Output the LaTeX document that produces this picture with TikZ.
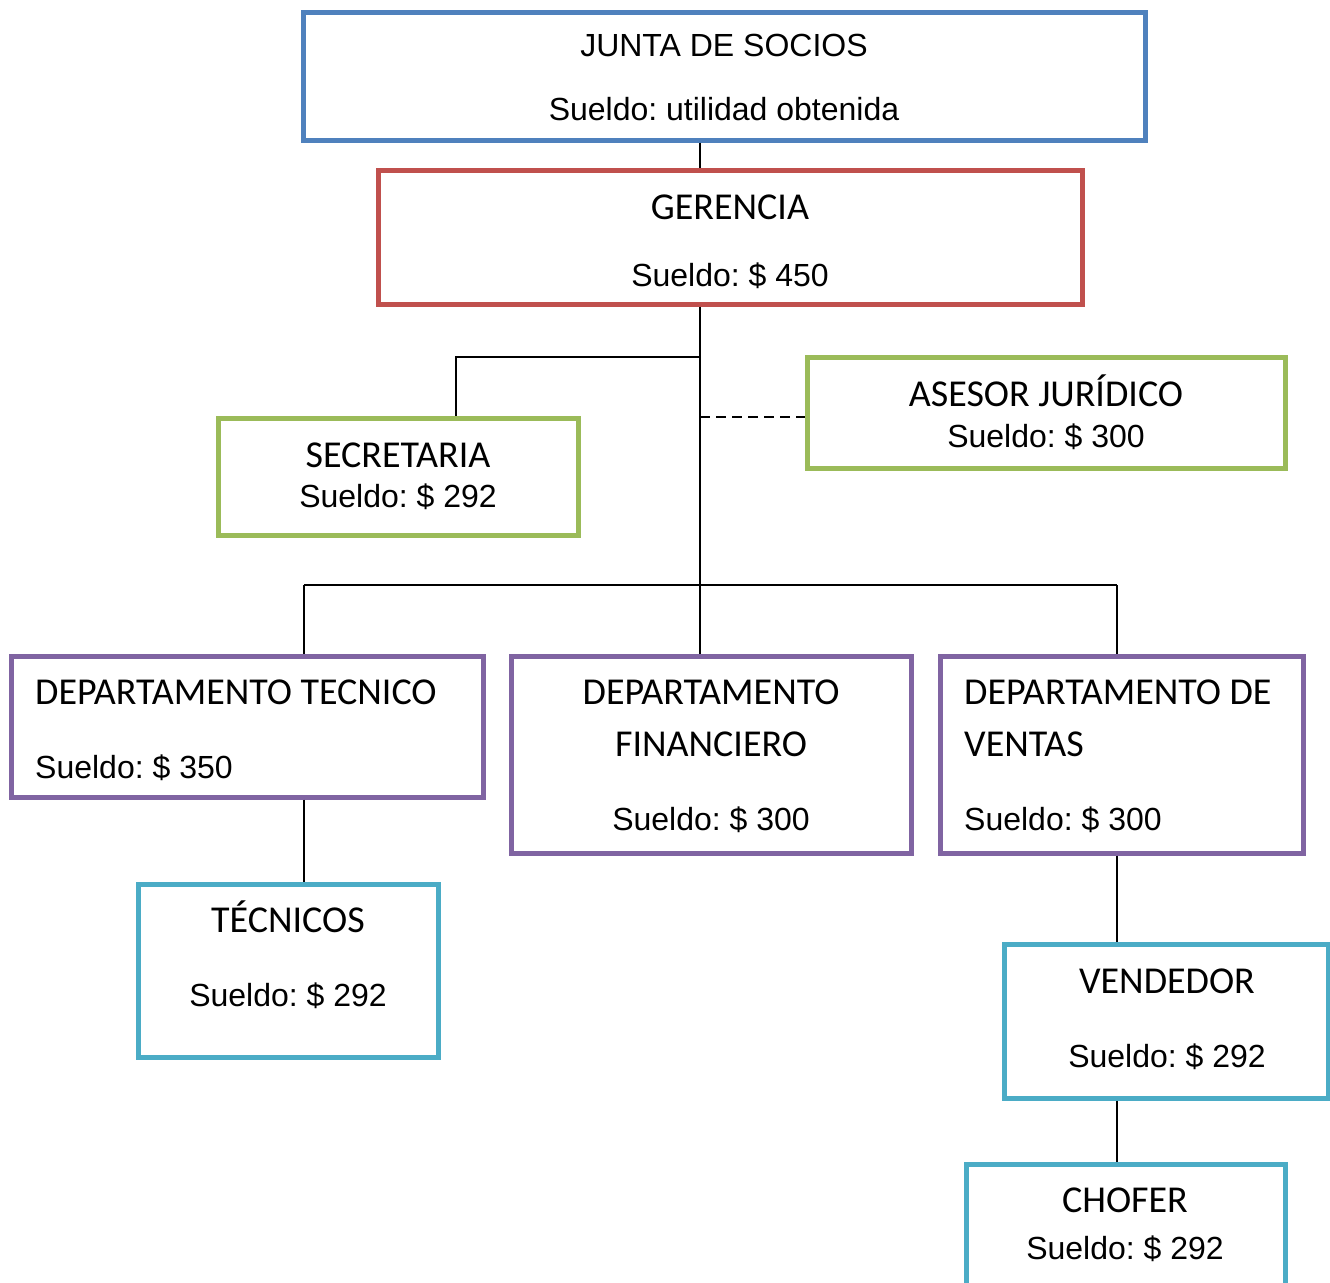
\documentclass[tikz,border=0pt]{standalone}
\usepackage{fontspec}
\setmainfont{Liberation Sans}
\newfontfamily\carlito{Carlito}
\frenchspacing
\definecolor{azulsoc}{RGB}{79,129,189}
\definecolor{rojoger}{RGB}{192,80,77}
\definecolor{verdeap}{RGB}{155,187,89}
\definecolor{moradodep}{RGB}{128,100,162}
\definecolor{aguaop}{RGB}{75,172,198}

\tikzset{
  caja/.style={draw=#1, line width=5pt, inner sep=0pt},
  tit/.style={font=\carlito\fontsize{38}{45}\selectfont, anchor=base, inner sep=0pt},
  sue/.style={font=\fontsize{32}{38}\selectfont, anchor=base, inner sep=0pt},
  linea/.style={line width=1.5pt}
}

\begin{document}
\begin{tikzpicture}[x=1pt, y=-1pt]
\useasboundingbox (0,0) rectangle (1330,1282);

% cajas
\node[caja=azulsoc, minimum width=842pt, minimum height=128pt] (junta) at (724,76) {};
\node[caja=rojoger, minimum width=704pt, minimum height=134pt] (ger) at (730,237) {};
\node[caja=verdeap, minimum width=360pt, minimum height=117pt] (sec) at (398,476.5) {};
\node[caja=verdeap, minimum width=478pt, minimum height=111pt] (ase) at (1046,412.5) {};
\node[caja=moradodep, minimum width=472pt, minimum height=141pt] (dtec) at (247,726.5) {};
\node[caja=moradodep, minimum width=400pt, minimum height=197pt] (dfin) at (711,754.5) {};
\node[caja=moradodep, minimum width=363pt, minimum height=197pt] (dven) at (1121.5,754.5) {};
\node[caja=aguaop, minimum width=300pt, minimum height=173pt] (tecs) at (288,970.5) {};
\node[caja=aguaop, minimum width=324pt, minimum height=154pt] (vend) at (1166,1021) {};
\node[caja=aguaop, minimum width=319pt, minimum height=146pt] (chof) at (1125.5,1237) {};

% textos
\node[sue] (juntaT) at (724,56) {JUNTA DE SOCIOS};
\node[sue] (juntaS) at (724,120) {Sueldo: utilidad obtenida};
\node[tit] (gerT) at (730,219) {GERENCIA};
\node[sue] (gerS) at (730,286) {Sueldo: \$ 450};
\node[tit] (secT) at (398,467) {SECRETARIA};
\node[sue] (secS) at (398,507) {Sueldo: \$ 292};
\node[tit] (aseT) at (1046,406) {ASESOR JURÍDICO};
\node[sue] (aseS) at (1046,447) {Sueldo: \$ 300};
\node[tit, anchor=base west] (dtecT) at (35,704) {DEPARTAMENTO TECNICO};
\node[sue, anchor=base west] (dtecS) at (35,778) {Sueldo: \$ 350};
\node[tit] (dfinT) at (711,704) {DEPARTAMENTO};
\node[tit] (dfinU) at (711,756) {FINANCIERO};
\node[sue] (dfinS) at (711,830) {Sueldo: \$ 300};
\node[tit, anchor=base west] (dvenT) at (964,704) {DEPARTAMENTO DE};
\node[tit, anchor=base west] (dvenU) at (964,756) {VENTAS};
\node[sue, anchor=base west] (dvenS) at (964,830) {Sueldo: \$ 300};
\node[tit] (tecsT) at (288,932) {TÉCNICOS};
\node[sue] (tecsS) at (288,1006) {Sueldo: \$ 292};
\node[tit] (vendT) at (1167,993) {VENDEDOR};
\node[sue] (vendS) at (1167,1067) {Sueldo: \$ 292};
\node[tit] (chofT) at (1125,1212) {CHOFER};
\node[sue] (chofS) at (1125,1259) {Sueldo: \$ 292};

% puntos de union
\coordinate (eje) at (700,0);
\coordinate (nsec) at (456,357);
\coordinate (nase) at (700,417);
\coordinate (ltec) at (304,585);
\coordinate (lven) at (1117,585);

% conectores
\draw[linea] (junta.south -| eje) -- (ger.north -| eje);
\draw[linea] (ger.south -| eje) -- (dfin.north -| eje);
\draw[linea] (nsec -| eje) -- (nsec) -- (sec.north -| nsec);
\draw[line width=2.5pt, dash pattern=on 10pt off 6pt] (nase) -- (ase.west |- nase);
\draw[linea] (ltec) -- (lven);
\draw[linea] (ltec) -- (dtec.north -| ltec);
\draw[linea] (lven) -- (dven.north -| lven);
\draw[linea] (dtec.south -| ltec) -- (tecs.north -| ltec);
\draw[linea] (dven.south -| lven) -- (vend.north -| lven);
\draw[linea] (vend.south -| lven) -- (chof.north -| lven);
\end{tikzpicture}
\end{document}
